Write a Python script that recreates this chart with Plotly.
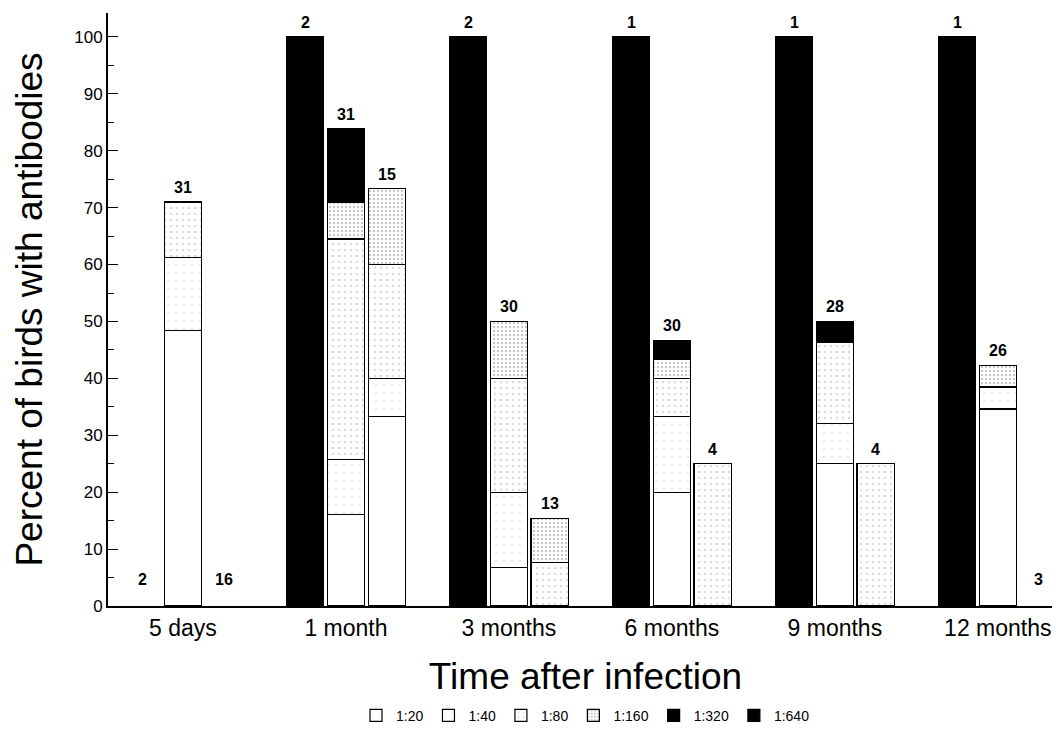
import plotly.graph_objects as go

groups = ["5 days", "1 month", "3 months", "6 months", "9 months", "12 months"]
# three bars per group (left, middle, right); number of birds per bar
n_birds = [2, 31, 16, 2, 31, 15, 2, 30, 13, 1, 30, 4, 1, 28, 4, 1, 26, 3]

# percent segment heights for each titre, per bar (18 bars)
t20 = [0, 48.4, 0, 0, 16.1, 33.3, 0, 6.7, 0, 0, 20.0, 0, 0, 25.0, 0, 0, 34.6, 0]
t40 = [0, 12.9, 0, 0, 9.7, 6.7, 0, 13.3, 0, 0, 13.3, 0, 0, 7.1, 0, 0, 3.9, 0]
t80 = [0, 9.7, 0, 0, 38.7, 20.0, 0, 20.0, 7.7, 0, 6.7, 25.0, 0, 14.3, 25.0, 0, 0, 0]
t160 = [0, 0, 0, 0, 6.5, 13.3, 0, 10.0, 7.7, 0, 3.3, 0, 0, 0, 0, 0, 3.8, 0]
t320 = [0, 0, 0, 100, 12.9, 0, 100, 0, 0, 100, 3.4, 0, 100, 3.6, 0, 100, 0, 0]
t640 = [0] * 18

series = [
    ("1:20", t20, dict(color="white")),
    ("1:40", t40, dict(color="white", pattern=dict(shape=".", fgcolor="#d6d6d6", size=8, solidity=0.08))),
    ("1:80", t80, dict(color="white", pattern=dict(shape=".", fgcolor="#b8b8b8", size=6, solidity=0.14))),
    ("1:160", t160, dict(color="white", pattern=dict(shape=".", fgcolor="#8c8c8c", size=4, solidity=0.28))),
    ("1:320", t320, dict(color="black")),
    ("1:640", t640, dict(color="black")),
]

slot_offset = 0.25
bar_width = 0.228
xpos = [g + (s - 1) * slot_offset for g in range(len(groups)) for s in range(3)]

fig = go.Figure()
for name, vals, marker in series:
    m = dict(marker)
    m["line"] = dict(color="black", width=1.2)
    fig.add_trace(go.Bar(
        x=xpos, y=[v if v else None for v in vals], name=name,
        width=bar_width, marker=m,
    ))

totals = [sum(s[1][i] for s in series) for i in range(len(xpos))]
for x, tot, n in zip(xpos, totals, n_birds):
    fig.add_annotation(x=x, y=tot, text="<b>%d</b>" % n, showarrow=False, yanchor="bottom",
                       yshift=4 if tot > 0 else 16,
                       font=dict(size=16, color="black", family="Liberation Sans"))

fig.update_layout(
    barmode="stack",
    width=1060, height=749,
    margin=dict(l=100, r=5, t=5, b=151),
    plot_bgcolor="white", paper_bgcolor="white",
    font=dict(family="Liberation Sans", color="black"),
    showlegend=True,
    legend=dict(orientation="h", x=0.5, xanchor="center", y=-0.185, yanchor="middle",
                font=dict(size=14), traceorder="normal", itemwidth=30),
    xaxis=dict(
        range=[-0.46, 5.40], tickvals=list(range(len(groups))), ticktext=groups,
        showgrid=False, zeroline=False, showline=True, linecolor="black", linewidth=2,
        ticks="", tickfont=dict(size=23),
        title=dict(text="Time after infection", font=dict(size=37), standoff=24),
    ),
    yaxis=dict(
        range=[0, 104.2], tickvals=list(range(0, 101, 10)),
        showgrid=False, zeroline=False, showline=True, linecolor="black", linewidth=2,
        ticks="inside", ticklen=10, tickwidth=1.2, tickcolor="black",
        tickfont=dict(size=17), ticksuffix="\u00a0\u00a0",
        minor=dict(tickvals=list(range(5, 100, 10)), ticks="inside", ticklen=6, tickcolor="black", tickwidth=1),
        title=dict(text="Percent of birds with antibodies", font=dict(size=37), standoff=20),
    ),
)

fig.write_html("out.html")
